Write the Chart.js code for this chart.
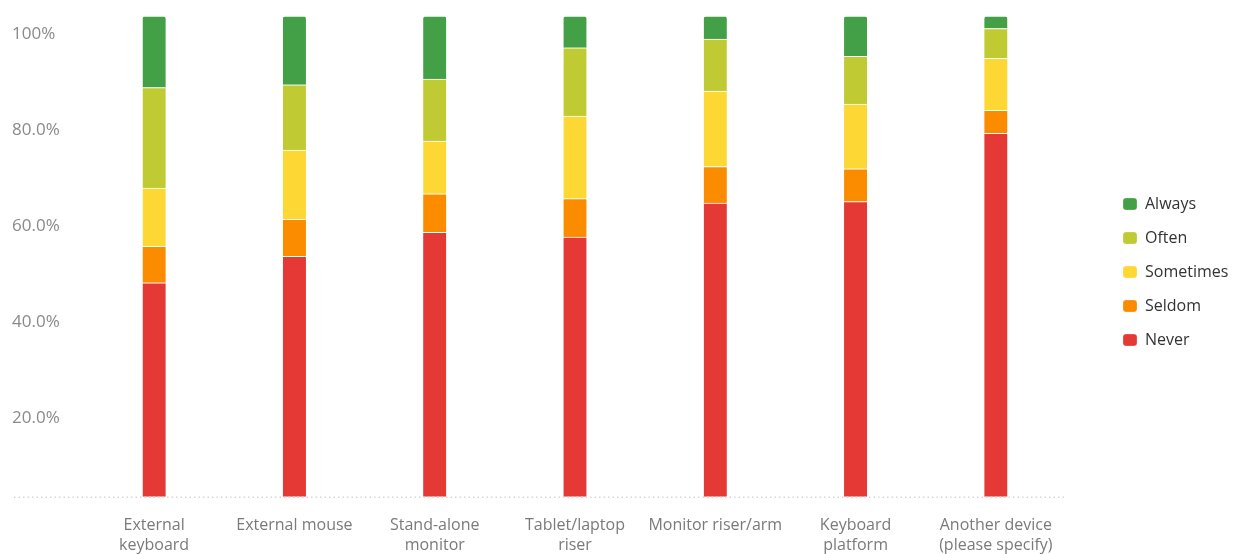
<!DOCTYPE html>
<html>
<head>
<meta charset="utf-8">
<script src="https://cdn.jsdelivr.net/npm/chart.js@4/dist/chart.umd.min.js"></script>
<style>
  html, body { margin: 0; padding: 0; background: #fff; }
  #wrap { width: 1237px; height: 554px; position: relative; }
</style>
</head>
<body>
<div id="wrap"><canvas id="canvas"></canvas></div>
<script>
const devices = [
  ['External', 'keyboard'],
  'External mouse',
  ['Stand-alone', 'monitor'],
  ['Tablet/laptop', 'riser'],
  'Monitor riser/arm',
  ['Keyboard', 'platform'],
  ['Another device', '(please specify)']
];

// share of answers per device, in percent
const never     = [44.5, 50.0, 55.0, 54.0, 61.1, 61.4, 75.6];
const seldom    = [7.6, 7.7, 8.0, 8.0, 7.6, 6.8, 4.8];
const sometimes = [12.1, 14.4, 11.0, 17.2, 15.7, 13.5, 10.8];
const often     = [20.9, 13.6, 12.9, 14.2, 10.8, 9.9, 6.2];
const always    = [14.9, 14.3, 13.1, 6.6, 4.8, 8.4, 2.6];

const yTicks = [20, 40, 60, 80, 100];

const FONT = '"Open Sans", "Noto Sans", sans-serif';

// dotted baseline under the bars, running out under the y labels too
const baseline = {
  id: 'baseline',
  afterDatasetsDraw(chart) {
    const ctx = chart.ctx;
    const y = chart.chartArea.bottom + 0.5;
    ctx.save();
    ctx.strokeStyle = '#d6d6d6';
    ctx.lineWidth = 1.5;
    ctx.setLineDash([1.5, 3]);
    ctx.beginPath();
    ctx.moveTo(14, y);
    ctx.lineTo(chart.chartArea.right, y);
    ctx.stroke();
    ctx.restore();
  }
};

// centre the legend a little higher than the full canvas height would
const liftLegend = {
  id: 'liftLegend',
  afterLayout(chart) {
    if (chart.legend) chart.legend.bottom -= 26;
  }
};

function ds(label, data, color, top) {
  return {
    label: label,
    data: data,
    backgroundColor: color,
    borderColor: '#ffffff',
    borderWidth: { top: 1, bottom: 0, left: 0, right: 0 },
    borderSkipped: false,
    borderRadius: top ? { topLeft: 3, topRight: 3 } : 0,
    barThickness: 23
  };
}

const ctx = document.getElementById('canvas').getContext('2d');
const myChart = new Chart(ctx, {
  type: 'bar',
  data: {
    labels: devices,
    datasets: [
      ds('Never', never, '#e53935'),
      ds('Seldom', seldom, '#fb8c00'),
      ds('Sometimes', sometimes, '#fdd835'),
      ds('Often', often, '#c0ca33'),
      ds('Always', always, '#43a047', true)
    ]
  },
  options: {
    responsive: true,
    maintainAspectRatio: false,
    animation: false,
    layout: {
      padding: { left: 12, top: 16, right: 0, bottom: 0 }
    },
    scales: {
      x: {
        stacked: true,
        grid: { display: false },
        border: { display: false },
        ticks: {
          color: '#7a7a7a',
          padding: 11,
          maxRotation: 0,
          autoSkip: false,
          font: { family: FONT, size: 16, lineHeight: 1.25 }
        },
        afterFit(scale) { scale.height = 57.3; }
      },
      y: {
        stacked: true,
        min: 0,
        max: 100,
        afterBuildTicks(scale) {
          scale.ticks = yTicks.map(v => ({ value: v }));
        },
        grid: { display: false },
        border: { display: false },
        ticks: {
          color: '#8a8a8a',
          crossAlign: 'far',
          labelOffset: 18,
          font: { family: FONT, size: 17 },
          callback: v => (v === 100 ? '100%' : v.toFixed(1) + '%')
        },
        afterFit(scale) { scale.width = 72; }
      },
      // empty axis that only keeps a gap between the bars and the legend
      gap: {
        position: 'right',
        display: true,
        grid: { display: false },
        border: { display: false },
        ticks: { display: false },
        afterFit(scale) { scale.width = 39; }
      }
    },
    plugins: {
      tooltip: { enabled: false },
      legend: {
        position: 'right',
        reverse: true,
        maxWidth: 132,
        labels: {
          color: '#333333',
          boxWidth: 14,
          boxHeight: 12,
          useBorderRadius: true,
          borderRadius: 3,
          padding: 18,
          font: { family: FONT, size: 16 }
        }
      }
    }
  },
  plugins: [baseline, liftLegend]
});
</script>
</body>
</html>
